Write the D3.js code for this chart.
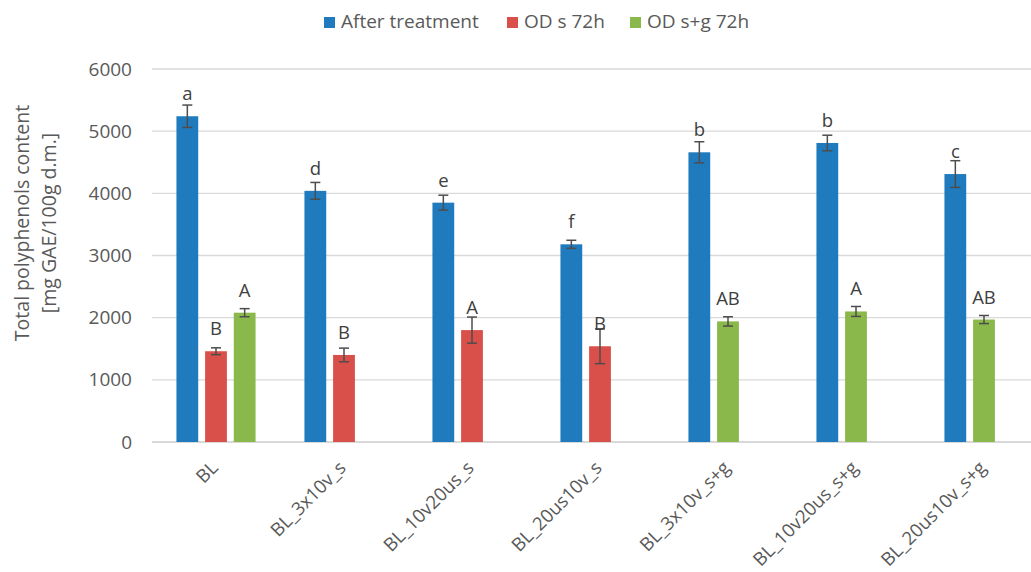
<!DOCTYPE html>
<html>
<head>
<meta charset="utf-8">
<script src="https://cdn.jsdelivr.net/npm/d3@7/dist/d3.min.js"></script>
<style>
  html, body { margin: 0; padding: 0; background: #fff; }
  svg { display: block; font-family: "Open Sans", sans-serif; }
</style>
</head>
<body>
<svg id="chart" width="1031" height="572"></svg>
<script>
// Categories along the x axis
const categories = ["BL", "BL_3x10v_s", "BL_10v20us_s", "BL_20us10v_s",
  "BL_3x10v_s+g", "BL_10v20us_s+g", "BL_20us10v_s+g"];

// Series names (legend order)
const seriesNames = ["After treatment", "OD s 72h", "OD s+g 72h"];
const seriesColors = ["#1f7bbd", "#d94f4a", "#8ab84b"];

// Mean values (null = not measured)
const afterTreatment = [5240, 4040, 3850, 3180, 4660, 4810, 4310];
const odS72h        = [1460, 1400, 1800, 1540, null, null, null];
const odSG72h       = [2080, null, null, null, 1940, 2100, 1970];

// Standard deviations
const afterTreatmentErr = [180, 135, 120, 65, 170, 125, 215];
const odS72hErr         = [55, 110, 210, 280, null, null, null];
const odSG72hErr        = [65, null, null, null, 75, 80, 65];

// Significance letters
const afterTreatmentLetters = ["a", "d", "e", "f", "b", "b", "c"];
const odS72hLetters         = ["B", "B", "A", "B", null, null, null];
const odSG72hLetters        = ["A", null, null, null, "AB", "A", "AB"];

const yTicks = [0, 1000, 2000, 3000, 4000, 5000, 6000];

const values  = [afterTreatment, odS72h, odSG72h];
const errs    = [afterTreatmentErr, odS72hErr, odSG72hErr];
const letters = [afterTreatmentLetters, odS72hLetters, odSG72hLetters];

// Bars of each category, packed from the left of the group
const bars = [];
categories.forEach((cat, ci) => {
  let slot = 0;
  values.forEach((vals, si) => {
    if (vals[ci] == null) return;
    bars.push({ cat, series: si, slot: slot++, value: vals[ci],
                err: errs[si][ci], letter: letters[si][ci] });
  });
});

const svg = d3.select("#chart");
const W = 1031, H = 572;
const textColor = "#595959";

const plotLeft = 152, plotTop = 69, plotBottom = 442, bandStep = 128;
const x = d3.scaleBand().domain(categories)
  .range([plotLeft, plotLeft + categories.length * bandStep]).padding(0);
const groupW = 86;
const x1 = d3.scaleBand().domain([0, 1, 2]).range([0, groupW])
  .paddingInner(0.24).paddingOuter(0.12);
const y = d3.scaleLinear().domain([0, 6000]).range([plotBottom, plotTop]);

svg.append("defs").append("clipPath").attr("id", "clip")
  .append("rect").attr("x", 0).attr("y", 0).attr("width", W).attr("height", H);

const g = svg.append("g").attr("clip-path", "url(#clip)");

// Horizontal gridlines
g.append("g").selectAll("line").data(yTicks).join("line")
  .attr("x1", plotLeft).attr("x2", x.range()[1])
  .attr("y1", d => y(d)).attr("y2", d => y(d))
  .attr("stroke", "#d9d9d9").attr("stroke-width", d => d === 0 ? 1.8 : 1.3);

// Y axis tick labels
const yAxis = d3.axisLeft(y).tickValues(yTicks).tickFormat(d3.format("d"))
  .tickSize(0).tickPadding(0);
const ya = svg.append("g").attr("transform", `translate(${plotLeft - 20},0)`).call(yAxis);
ya.select(".domain").remove();
ya.selectAll("text").attr("font-size", 19).attr("fill", textColor)
  .attr("font-family", "'Open Sans', sans-serif");

// Y axis title
const yt = svg.append("text")
  .attr("transform", `translate(29, 223) rotate(-90)`)
  .attr("text-anchor", "middle").attr("font-size", 19.5).attr("fill", textColor);
yt.append("tspan").attr("x", 0).attr("dy", 0).text("Total polyphenols content");
yt.append("tspan").attr("x", 0).attr("dy", 27).text("[mg GAE/100g d.m.]");

const bx = d => x(d.cat) + (x.bandwidth() - groupW) / 2 + x1(d.slot);

// Bars
g.append("g").selectAll("rect").data(bars).join("rect")
  .attr("x", bx)
  .attr("y", d => y(d.value))
  .attr("width", x1.bandwidth())
  .attr("height", d => y(0) - y(d.value))
  .attr("fill", d => seriesColors[d.series]);

// Error bars
const eb = g.append("g").attr("stroke", "#4d4d4d").attr("stroke-width", 1.5)
  .selectAll("g").data(bars).join("g")
  .attr("transform", d => `translate(${bx(d) + x1.bandwidth() / 2},0)`);
eb.append("line").attr("y1", d => y(d.value + d.err)).attr("y2", d => y(d.value - d.err));
eb.append("line").attr("x1", -5).attr("x2", 5)
  .attr("y1", d => y(d.value + d.err)).attr("y2", d => y(d.value + d.err));
eb.append("line").attr("x1", -5).attr("x2", 5)
  .attr("y1", d => y(d.value - d.err)).attr("y2", d => y(d.value - d.err));

// Significance letters
g.append("g").selectAll("text").data(bars).join("text")
  .attr("x", d => bx(d) + x1.bandwidth() / 2)
  .attr("y", d => y(d.value) - 16)
  .attr("text-anchor", "middle").attr("font-size", 18.5).attr("fill", "#404040")
  .text(d => d.letter);

// X axis category labels
svg.append("g").selectAll("text").data(categories).join("text")
  .attr("transform", d => `translate(${x(d) + x.bandwidth() / 2 + 3},${plotBottom + 27}) rotate(-45)`)
  .attr("text-anchor", "end").attr("font-size", 18.5).attr("fill", textColor)
  .text(d => d);

// Legend
const legendX = [324, 507, 630];
const lg = svg.append("g").selectAll("g").data(seriesNames).join("g")
  .attr("transform", (d, i) => `translate(${legendX[i]},17)`);
lg.append("rect").attr("width", 11).attr("height", 11).attr("fill", (d, i) => seriesColors[i]);
lg.append("text").attr("x", 17).attr("y", 11).attr("font-size", 19).attr("fill", textColor)
  .text(d => d);
</script>
</body>
</html>
